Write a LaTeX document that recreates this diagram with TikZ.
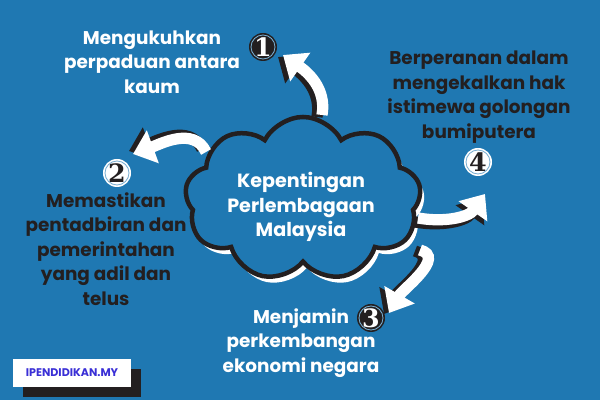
\documentclass[tikz,border=0pt]{standalone}
\usepackage{fontspec}
\setmainfont{Poppins}
\newfontfamily\numfont{DejaVu Serif}
\usetikzlibrary{shapes.symbols, arrows.meta, positioning}
\definecolor{bgblue}{HTML}{1F78B2}
\definecolor{inkdark}{HTML}{231F20}
\definecolor{siteblue}{HTML}{3A2FD6}

\begin{document}
\begin{tikzpicture}[x=0.025cm, y=0.025cm]
\tikzstyle{pointtext} = [align=center, font=\fontsize{13.1}{17.4}\selectfont\bfseries, inner sep=0pt]
\tikzstyle{numdark} = [circle, fill=inkdark, text=white, minimum size=0.7cm, inner sep=0pt, font=\numfont\bfseries\fontsize{18}{18}\selectfont, path picture={\draw[bgblue!60!white, line width=0.6pt] (path picture bounding box.center) circle (0.3cm);}]
\tikzstyle{numlight} = [numdark, fill=white, text=inkdark]
\tikzstyle{arrowbody} = [line width=8pt, -{Triangle[length=15pt, width=24pt]}]
\tikzstyle{cloudbox} = [cloud, cloud puffs=9, cloud puff arc=125, aspect=1.45, minimum width=5.9cm, minimum height=4.1cm]

% background
\fill[bgblue] (0,0) rectangle (600,400);
\useasboundingbox (0,0) rectangle (600,400);

% centre cloud
\node (cloudshadow) [cloudbox, fill=white] at (307,195) {};
\node (cloud) [cloudbox, fill=bgblue, draw=inkdark, line width=3.2pt] at (303,201) {};
\node (cloudtext) [pointtext, text=white, font=\fontsize{13.6}{17.6}\selectfont\bfseries] at (301,193) {Kepentingan\\Perlembagaan\\Malaysia};

% points
\node (t1) [pointtext, text=white] at (152,338) {Mengukuhkan\\perpaduan antara\\kaum};
\node (t2) [pointtext, text=inkdark] at (106,151) {Memastikan\\pentadbiran dan\\pemerintahan\\yang adil dan\\telus};
\node (t3) [pointtext, text=white] at (301,57) {Menjamin\\perkembangan\\ekonomi negara};
\node (t4) [pointtext, text=inkdark] at (479,303) {Berperanan dalam\\mengekalkan hak\\istimewa golongan\\bumiputera};

% numbers
\node (n1) [numdark] at (263,353) {1};
\node (n2) [numlight] at (117,227) {2};
\node (n3) [numdark] at (371,82) {3};
\node (n4) [numlight] at (478,238) {4};

% arrows
\coordinate (a1s) at (322,285);
\coordinate (a1e) at (283,345);
\coordinate (a2s) at (206,248);
\coordinate (a2e) at (133,246);
\coordinate (a3s) at (420,150);
\coordinate (a3e) at (389,87);
\coordinate (a4s) at (418,182);
\coordinate (a4e) at (485,206);

\begin{scope}[transform canvas={shift={(-5,-2)}}]
\draw[arrowbody, inkdark] (a1s) to[out=80, in=-35] (a1e);
\end{scope}
\draw[arrowbody, white] (a1s) to[out=80, in=-35] (a1e);

\begin{scope}[transform canvas={shift={(-4,3)}}]
\draw[arrowbody, inkdark] (a2s) to[out=115, in=20] (a2e);
\end{scope}
\draw[arrowbody, white] (a2s) to[out=115, in=20] (a2e);

\begin{scope}[transform canvas={shift={(-5,-1)}}]
\draw[arrowbody, inkdark] (a3s) to[out=-15, in=60] (a3e);
\end{scope}
\draw[arrowbody, white] (a3s) to[out=-15, in=60] (a3e);

\begin{scope}[transform canvas={shift={(-3,-4)}}]
\draw[arrowbody, inkdark] (a4s) to[out=-10, in=-125] (a4e);
\end{scope}
\draw[arrowbody, white] (a4s) to[out=-10, in=-125] (a4e);

% site label
\node (siteshadow) [fill=inkdark, minimum width=2.95cm, minimum height=0.68cm, inner sep=0pt] at (82,17) {};
\node (site) [fill=white, minimum width=2.95cm, minimum height=0.68cm, inner sep=0pt, text=siteblue, font=\fontsize{7.9}{9}\selectfont\bfseries] at (72,27) {IPENDIDIKAN.MY};
\end{tikzpicture}
\end{document}
